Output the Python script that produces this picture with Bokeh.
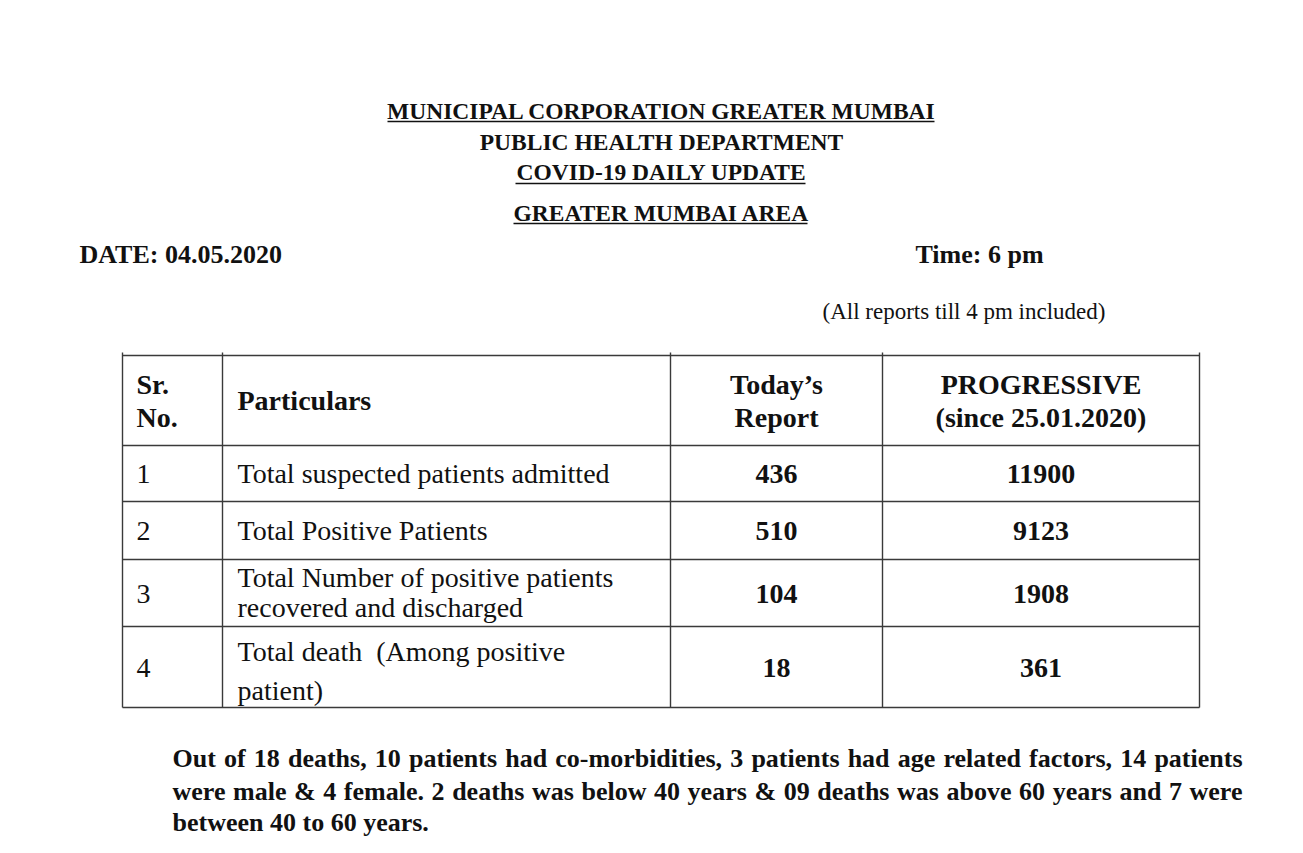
import glob
from bokeh.plotting import figure
from bokeh.models import Range1d
from bokeh.core.properties import value
from bokeh.embed import file_html
from bokeh.resources import INLINE

# ---- data ----
titles = ["MUNICIPAL CORPORATION GREATER MUMBAI", "PUBLIC HEALTH DEPARTMENT",
          "COVID-19 DAILY UPDATE", "GREATER MUMBAI AREA"]
title_underlined = [True, False, True, True]
date_label = "DATE: 04.05.2020"
time_label = "Time: 6 pm"
note_label = "(All reports till 4 pm included)"
header_sr = ["Sr.", "No."]
header_particulars = "Particulars"
header_today = ["Today\u2019s", "Report"]
header_prog = ["PROGRESSIVE", "(since 25.01.2020)"]
sr_no = ["1", "2", "3", "4"]
particulars = [["Total suspected patients admitted"],
               ["Total Positive Patients"],
               ["Total Number of positive patients", "recovered and discharged"],
               ["Total death\u00a0 (Among positive", "patient)"]]
todays_report = [436, 510, 104, 18]
progressive = [11900, 9123, 1908, 361]
paragraph = ["Out of 18 deaths, 10 patients had co-morbidities, 3 patients had age related factors, 14 patients",
             "were male & 4 female. 2 deaths was below 40 years & 09 deaths was above 60 years and 7 were",
             "between 40 to 60 years."]
paragraph_justified = [True, True, False]

# ---- layout ----
W, H = 1287, 837
SERIF = value("Liberation Serif")
INK = "#111111"
p = figure(width=W, height=H, output_backend="svg", toolbar_location=None,
           x_range=Range1d(0, W), y_range=Range1d(H, 0),
           min_border=0, outline_line_color=None)
p.axis.visible = False
p.grid.visible = False
p.background_fill_color = "white"
p.border_fill_color = "white"


def txt(x, y, s, size, bold=False, align="left"):
    p.text(x=[x], y=[y], text=[s], text_font=SERIF, text_font_size=size,
           text_font_style="bold" if bold else "normal", text_align=align,
           text_baseline="middle", text_color=INK)


# titles
title_y = [110, 141, 171, 212]
ul = [(387, 934, 121), None, (515, 805, 183), (513, 807, 223)]
for t, y, u, flag in zip(titles, title_y, ul, title_underlined):
    txt(661, y, t, "23.5px", bold=True, align="center")
    if flag:
        p.segment(x0=[u[0]], y0=[u[2]], x1=[u[1]], y1=[u[2]], line_color=INK, line_width=1.6)

txt(79, 254, date_label, "26px", bold=True)
txt(915, 254, time_label, "26px", bold=True)
txt(822, 311, note_label, "23px")

# table grid
col_x = [122, 222, 670, 882, 1199]
row_y = [355, 445, 501, 559, 626, 707]
for x in col_x:
    p.segment(x0=[x], y0=[row_y[0] - 3], x1=[x], y1=[row_y[-1]], line_color="#3a3a3a", line_width=1.4)
for y in row_y:
    p.segment(x0=[col_x[0]], y0=[y], x1=[col_x[-1]], y1=[y], line_color="#3a3a3a", line_width=1.4)

c_today = (col_x[2] + col_x[3]) / 2
c_prog = (col_x[3] + col_x[4]) / 2
TS = "28px"
txt(136, 384, header_sr[0], TS, bold=True)
txt(136, 417, header_sr[1], TS, bold=True)
txt(237, 400, header_particulars, TS, bold=True)
txt(c_today, 384, header_today[0], TS, bold=True, align="center")
txt(c_today, 417, header_today[1], TS, bold=True, align="center")
txt(c_prog, 384, header_prog[0], TS, bold=True, align="center")
txt(c_prog, 417, header_prog[1], TS, bold=True, align="center")

row_center = [473, 530, 593, 667]
part_lines_y = [[473], [530], [577, 607], [651, 690]]
for i in range(4):
    txt(136, row_center[i], sr_no[i], TS)
    for s, yy in zip(particulars[i], part_lines_y[i]):
        txt(237, yy, s, TS)
    txt(c_today, row_center[i], str(todays_report[i]), TS, bold=True, align="center")
    txt(c_prog, row_center[i], str(progressive[i]), TS, bold=True, align="center")

# paragraph (justified lines use measured word widths when a font file is available)
PS = 26
para_left, para_right = 172, 1242
para_y = [758, 791, 822]
measure = None
try:
    from PIL import ImageFont
    cands = []
    for pat in ["/usr/share/fonts/**/LiberationSerif-Bold.ttf",
                "/usr/local/share/fonts/**/LiberationSerif-Bold.ttf",
                "/usr/share/fonts/**/liberation*/*Serif-Bold.ttf"]:
        cands += glob.glob(pat, recursive=True)
    if cands:
        f = ImageFont.truetype(cands[0], PS)
        measure = lambda s: f.getlength(s)
except Exception:
    measure = None

for s, yy, just in zip(paragraph, para_y, paragraph_justified):
    if just and measure is not None:
        words = s.split(" ")
        widths = [measure(w) for w in words]
        gap = (para_right - para_left - sum(widths)) / (len(words) - 1)
        xs, x = [], para_left
        for w in widths:
            xs.append(x)
            x += w + gap
        p.text(x=xs, y=[yy] * len(words), text=words, text_font=SERIF,
               text_font_size=f"{PS}px", text_font_style="bold",
               text_align="left", text_baseline="middle", text_color=INK)
    else:
        txt(para_left, yy, s, f"{PS}px", bold=True)

open("out.html", "w").write(file_html(p, INLINE))
